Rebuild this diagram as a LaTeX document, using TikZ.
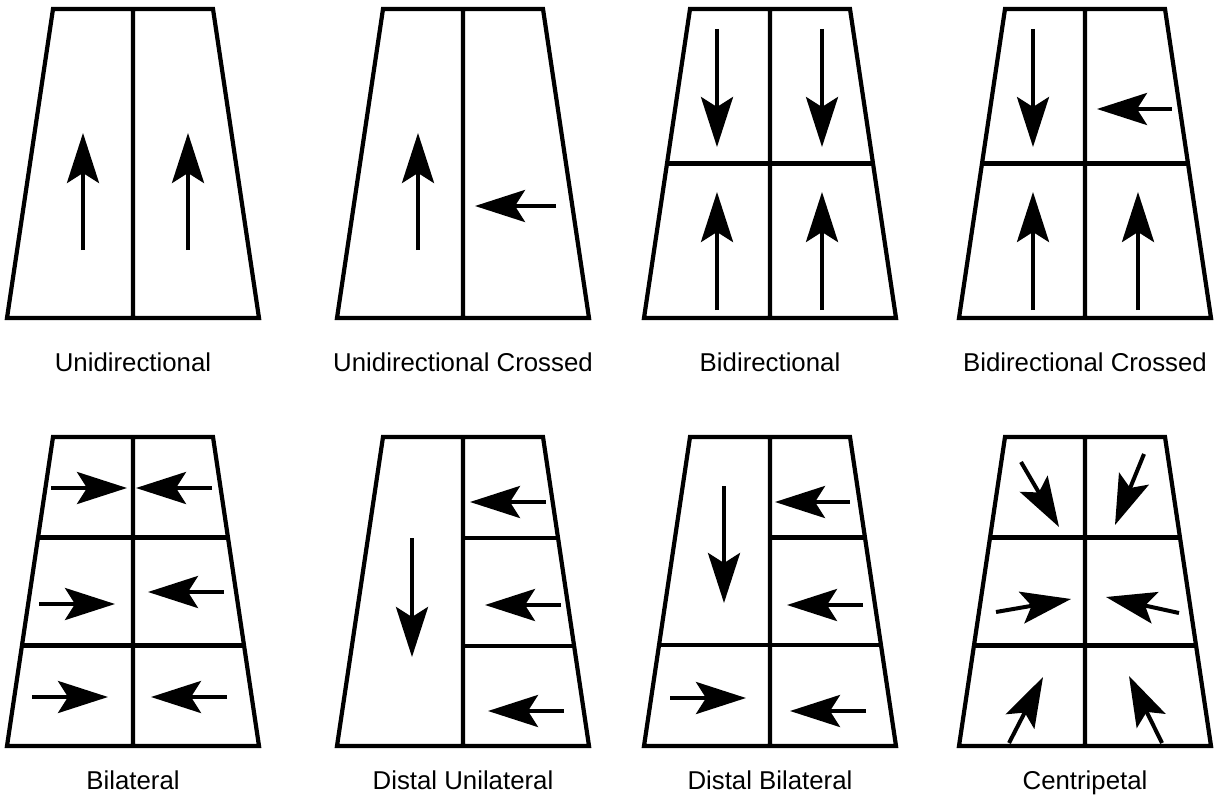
\documentclass[tikz,border=0pt]{standalone}
\usepackage{fontspec}
\setmainfont{Liberation Sans}
\usetikzlibrary{arrows.meta,calc}
\begin{document}
\begin{tikzpicture}[x=0.5pt, y=-0.5pt, line join=miter, line cap=butt,
	>={Stealth[length=25pt,width=16pt,inset=5pt]},
	frame/.style={line width=2.1pt},
	flow/.style={->, line width=2pt},
	caption/.style={anchor=base, inner sep=0pt, font=\fontsize{12.9}{15}\selectfont}]
	\useasboundingbox (0,0) rectangle (1220,797);
	% outlines and middle lines
	\foreach \i/\cx/\ty in {1/133/9,2/463/9,3/770/9,4/1085/9,5/133/437,6/463/437,7/770/437,8/1085/437}{
		\path[shift={(\cx,\ty)}]
		(-80,0) coordinate (tl\i)
		(80,0) coordinate (tr\i)
		(126,309) coordinate (br\i)
		(-126,309) coordinate (bl\i)
		(0,0) coordinate (mt\i)
		(0,309) coordinate (mb\i)
		;
		\draw[frame] (tl\i)--(tr\i)--(br\i)--(bl\i)--cycle (mt\i)--(mb\i);
	}
	% dividers
	\foreach \i in {3,4}
	\draw[frame] ($(tl\i)!.5!(bl\i)$)--($(tr\i)!.5!(br\i)$);
	\foreach \i in {5,8}
	\draw[frame] ($(tl\i)!.325!(bl\i)$)--($(tr\i)!.325!(br\i)$)
	($(tl\i)!.675!(bl\i)$)--($(tr\i)!.675!(br\i)$);
	\draw[frame] ($(mt6)!.327!(mb6)$)--($(tr6)!.327!(br6)$)
	($(mt6)!.676!(mb6)$)--($(tr6)!.676!(br6)$);
	\draw[frame] ($(mt7)!.325!(mb7)$)--($(tr7)!.325!(br7)$)
	($(tl7)!.673!(bl7)$)--($(tr7)!.673!(br7)$);
	% arrows, top row
	\begin{scope}[shift={(133,9)}]
		\draw[flow] (-50,241)--(-50,124);
		\draw[flow] (55,241)--(55,124);
	\end{scope}
	\begin{scope}[shift={(463,9)}]
		\draw[flow] (-45,241)--(-45,124);
		\draw[flow] (93,197)--(12,197);
	\end{scope}
	\begin{scope}[shift={(770,9)}]
		\draw[flow] (-53,20)--(-53,138);
		\draw[flow] (52,20)--(52,138);
		\draw[flow] (-53,301)--(-53,183);
		\draw[flow] (52,301)--(52,183);
	\end{scope}
	\begin{scope}[shift={(1085,9)}]
		\draw[flow] (-52,20)--(-52,138);
		\draw[flow] (87,100)--(12,100);
		\draw[flow] (-52,301)--(-52,183);
		\draw[flow] (53,301)--(53,183);
	\end{scope}
	% arrows, bottom row
	\begin{scope}[shift={(133,437)}]
		\draw[flow] (-82,51)--(-6,51);
		\draw[flow] (79,51)--(3,51);
		\draw[flow] (-94,167)--(-18,167);
		\draw[flow] (91,155)--(15,155);
		\draw[flow] (-101,260)--(-25,260);
		\draw[flow] (94,260)--(18,260);
	\end{scope}
	\begin{scope}[shift={(463,437)}]
		\draw[flow] (-51,101)--(-51,220);
		\draw[flow] (83,65)--(7,65);
		\draw[flow] (98,168)--(22,168);
		\draw[flow] (101,274)--(25,274);
	\end{scope}
	\begin{scope}[shift={(770,437)}]
		\draw[flow] (-46,49)--(-46,166);
		\draw[flow] (80,65)--(5,65);
		\draw[flow] (93,168)--(17,168);
		\draw[flow] (-100,261)--(-24,261);
		\draw[flow] (96,274)--(20,274);
	\end{scope}
	\begin{scope}[shift={(1085,437)}]
		\draw[flow] (-64,25)--(-26,90);
		\draw[flow] (59,17)--(30,88);
		\draw[flow] (-89,175)--(-14,162);
		\draw[flow] (94,176)--(21,160);
		\draw[flow] (-76,306)--(-42,240);
		\draw[flow] (77,306)--(44,239);
	\end{scope}
	% captions
	\foreach \cx/\yb/\txt/\nm in {133/371/Unidirectional/uni,463/371/Unidirectional Crossed/unix,
		770/371/Bidirectional/bid,1085/371/Bidirectional Crossed/bidx,
		133/789/Bilateral/bil,463/789/Distal Unilateral/dun,
		770/789/Distal Bilateral/dbi,1085/789/Centripetal/cen}
	\node[caption] (\nm) at (\cx,\yb) {\txt};
\end{tikzpicture}
\end{document}
